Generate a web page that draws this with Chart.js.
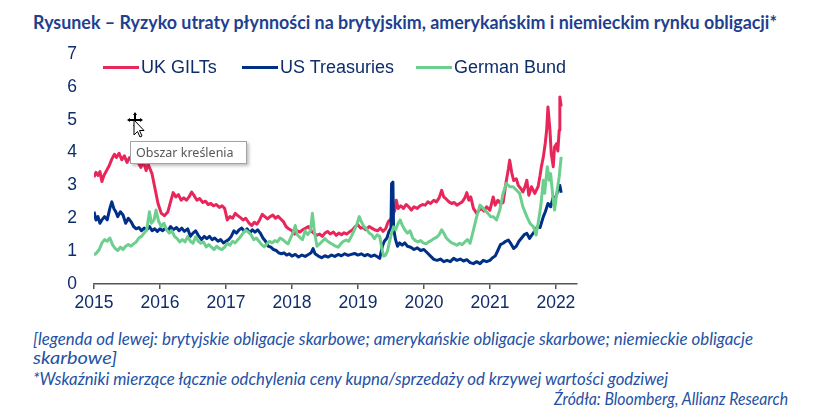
<!DOCTYPE html>
<html>
<head>
<meta charset="utf-8">
<script src="https://cdn.jsdelivr.net/npm/chart.js@4.4.1/dist/chart.umd.min.js"></script>
<style>
body{margin:0;background:#fff;width:815px;height:411px;overflow:hidden;position:relative;font-family:"Liberation Sans",Arial,sans-serif}
.t{position:absolute;white-space:nowrap;transform-origin:0 0;line-height:20px}
#title{left:33px;top:12px;font-weight:bold;font-size:18.5px;font-family:Lato,sans-serif;color:#1f3f8f}
.note{font-style:italic;font-size:16.5px;font-family:Lato,sans-serif;color:#2451a4}
#wrap{position:absolute;left:0;top:0;width:600px;height:320px}
.lg{position:absolute;height:3px;top:66px;width:36px}
.lt{position:absolute;top:56px;font-size:18px;line-height:22px;color:#0f2d6b}
#tip{position:absolute;left:130px;top:141px;width:110px;height:21px;border:1px solid #a3a3a3;background:#fff;
  box-shadow:2px 2px 3px rgba(0,0,0,0.25);font:12.5px "Noto Sans",sans-serif;color:#575757;line-height:21px;padding-left:5px}
#cur{position:absolute;left:126px;top:111px}
</style>
</head>
<body>
<div id="title" class="t" data-w="744">Rysunek – Ryzyko utraty płynności na brytyjskim, amerykańskim i niemieckim rynku obligacji*</div>

<div id="wrap"><canvas id="myChart" width="600" height="320"></canvas></div>

<div class="lg" style="left:103px;background:#e8265a"></div><div class="lt" style="left:141px">UK GILTs</div>
<div class="lg" style="left:242px;background:#002f87"></div><div class="lt" style="left:280px">US Treasuries</div>
<div class="lg" style="left:416px;background:#6dcf8e"></div><div class="lt" style="left:454px">German Bund</div>

<svg id="cur" width="22" height="28" viewBox="0 0 22 28">
  <path d="M9 1 L11 4 L10 4 L10 8 L14 8 L14 7 L17 9 L14 11 L14 10 L10 10 L10 14 L11 14 L9 17 L7 14 L8 14 L8 10 L4 10 L4 11 L1 9 L4 7 L4 8 L8 8 L8 4 L7 4 Z" fill="#000"/>
  <path d="M8 9 L8 24 L11.5 20.5 L14 26 L16 25 L13.5 19.5 L18 19.5 Z" fill="#fff" stroke="#000" stroke-width="1"/>
</svg>
<div id="tip">Obszar kreślenia</div>

<div class="t note" data-w="720" style="left:33px;top:329px">[legenda od lewej: brytyjskie obligacje skarbowe; amerykańskie obligacje skarbowe; niemieckie obligacje</div>
<div class="t note" data-w="84" style="left:33px;top:348px">skarbowe]</div>
<div class="t note" data-w="635" style="left:33px;top:369px">*Wskaźniki mierzące łącznie odchylenia ceny kupna/sprzedaży od krzywej wartości godziwej</div>
<div class="t note" data-w="234" style="left:554px;top:389px">Źródła: Bloomberg, Allianz Research</div>

<script>
// UK GILTs
const giltYears = [2015.00,2015.03,2015.06,2015.09,2015.12,2015.15,2015.19,2015.23,2015.27,2015.31,2015.34,2015.38,2015.42,2015.46,2015.50,2015.54,2015.58,2015.63,2015.67,2015.71,2015.75,2015.79,2015.82,2015.85,2015.88,2015.92,2015.97,2016.02,2016.07,2016.12,2016.16,2016.20,2016.24,2016.28,2016.32,2016.36,2016.40,2016.44,2016.48,2016.52,2016.56,2016.60,2016.65,2016.69,2016.73,2016.77,2016.81,2016.85,2016.90,2016.94,2016.98,2017.02,2017.06,2017.10,2017.14,2017.18,2017.22,2017.26,2017.30,2017.35,2017.39,2017.43,2017.47,2017.51,2017.55,2017.59,2017.63,2017.67,2017.71,2017.75,2017.79,2017.83,2017.87,2017.91,2017.95,2018.00,2018.04,2018.08,2018.12,2018.16,2018.21,2018.25,2018.29,2018.33,2018.37,2018.42,2018.46,2018.50,2018.54,2018.58,2018.63,2018.67,2018.71,2018.75,2018.79,2018.83,2018.88,2018.92,2018.96,2019.00,2019.04,2019.08,2019.12,2019.17,2019.21,2019.25,2019.30,2019.34,2019.38,2019.42,2019.46,2019.50,2019.53,2019.56,2019.58,2019.61,2019.65,2019.69,2019.73,2019.77,2019.81,2019.85,2019.90,2019.94,2019.98,2020.02,2020.06,2020.10,2020.15,2020.19,2020.23,2020.27,2020.30,2020.34,2020.38,2020.42,2020.46,2020.50,2020.54,2020.58,2020.62,2020.65,2020.68,2020.71,2020.75,2020.80,2020.84,2020.87,2020.91,2020.95,2021.00,2021.05,2021.08,2021.12,2021.16,2021.20,2021.25,2021.28,2021.30,2021.33,2021.36,2021.40,2021.43,2021.47,2021.50,2021.53,2021.56,2021.59,2021.63,2021.68,2021.73,2021.76,2021.78,2021.81,2021.84,2021.86,2021.88,2021.91,2021.93,2021.96,2021.98,2022.01,2022.03,2022.05,2022.06,2022.08];
const giltValues = [3.25,3.40,3.30,3.42,3.12,3.30,3.45,3.60,3.80,3.95,3.85,3.98,3.78,3.90,3.70,3.85,3.75,3.90,3.70,3.55,3.72,3.45,3.65,3.50,3.35,2.95,2.45,2.15,2.08,2.20,2.50,2.78,2.65,2.72,2.55,2.62,2.55,2.65,2.80,2.68,2.55,2.60,2.48,2.52,2.42,2.45,2.38,2.42,2.33,2.38,2.30,1.95,2.05,2.00,2.15,2.08,2.02,1.95,2.00,1.85,1.78,1.88,1.82,1.95,2.12,2.05,1.98,2.05,2.10,2.00,2.06,1.98,1.90,1.75,1.68,1.62,1.52,1.62,1.58,1.65,1.70,1.75,1.62,1.55,1.48,1.52,1.45,1.55,1.60,1.52,1.58,1.48,1.55,1.50,1.56,1.52,1.60,1.65,1.75,1.80,1.70,1.72,1.65,1.75,1.70,1.65,1.62,1.70,1.60,1.68,1.90,1.98,2.10,2.25,2.55,2.30,2.38,2.30,2.42,2.35,2.25,2.35,2.30,2.38,2.42,2.40,2.50,2.45,2.55,2.50,2.62,2.85,2.65,2.58,2.50,2.45,2.48,2.40,2.45,2.50,2.62,2.78,2.55,2.65,2.30,2.15,2.25,2.30,2.22,2.35,2.25,2.65,2.40,2.55,2.45,2.48,3.16,3.50,3.77,3.40,3.15,3.20,3.00,2.90,2.80,2.95,3.16,2.70,2.96,2.76,2.96,3.30,3.57,3.87,4.30,4.68,5.39,4.68,3.97,3.57,4.17,4.27,4.05,4.68,5.69,5.40];

// US Treasuries
const tsyYears = [2015.00,2015.03,2015.06,2015.09,2015.12,2015.16,2015.20,2015.24,2015.27,2015.30,2015.33,2015.36,2015.40,2015.44,2015.48,2015.52,2015.56,2015.60,2015.64,2015.68,2015.72,2015.76,2015.80,2015.84,2015.88,2015.92,2015.96,2016.00,2016.04,2016.08,2016.12,2016.16,2016.20,2016.25,2016.29,2016.33,2016.37,2016.42,2016.46,2016.50,2016.54,2016.58,2016.63,2016.67,2016.71,2016.75,2016.79,2016.83,2016.88,2016.92,2016.96,2017.00,2017.04,2017.08,2017.12,2017.16,2017.20,2017.24,2017.28,2017.32,2017.36,2017.40,2017.44,2017.48,2017.52,2017.56,2017.60,2017.64,2017.68,2017.72,2017.76,2017.80,2017.84,2017.88,2017.92,2017.96,2018.00,2018.05,2018.10,2018.15,2018.20,2018.25,2018.29,2018.32,2018.35,2018.40,2018.45,2018.50,2018.55,2018.60,2018.65,2018.70,2018.75,2018.80,2018.85,2018.90,2018.95,2019.00,2019.05,2019.10,2019.15,2019.20,2019.25,2019.30,2019.33,2019.37,2019.40,2019.44,2019.47,2019.50,2019.51,2019.53,2019.54,2019.57,2019.60,2019.63,2019.67,2019.71,2019.75,2019.80,2019.85,2019.90,2019.95,2020.00,2020.05,2020.10,2020.15,2020.20,2020.25,2020.30,2020.35,2020.40,2020.45,2020.50,2020.55,2020.60,2020.65,2020.70,2020.75,2020.80,2020.85,2020.90,2020.95,2021.00,2021.04,2021.08,2021.12,2021.16,2021.20,2021.24,2021.28,2021.32,2021.36,2021.40,2021.44,2021.48,2021.52,2021.56,2021.60,2021.64,2021.68,2021.72,2021.76,2021.81,2021.84,2021.88,2021.92,2021.96,2021.98,2022.01,2022.04,2022.06,2022.08];
const tsyValues = [2.20,1.95,2.05,1.85,1.95,2.05,1.95,2.30,2.50,2.30,2.20,2.05,2.20,2.10,1.85,2.00,1.90,1.75,1.68,1.72,1.62,1.70,1.65,1.75,1.62,1.68,1.60,1.68,1.62,1.70,1.62,1.75,1.65,1.72,1.62,1.70,1.60,1.68,1.45,1.55,1.62,1.48,1.35,1.45,1.38,1.45,1.35,1.40,1.30,1.35,1.25,1.30,1.35,1.45,1.62,1.55,1.65,1.70,1.60,1.68,1.55,1.65,1.58,1.65,1.55,1.40,1.30,1.15,1.12,1.05,1.02,0.95,0.92,0.95,0.88,0.92,0.85,0.90,0.82,0.88,0.84,0.90,0.95,1.08,0.92,0.85,0.80,0.86,0.82,0.88,0.84,0.90,0.86,0.92,0.87,0.90,0.93,0.88,0.92,0.86,0.90,0.84,0.88,0.82,0.78,1.15,1.30,1.40,1.60,1.70,3.05,3.10,1.70,1.35,1.15,1.25,1.18,1.25,1.15,1.12,1.05,1.10,1.02,1.05,0.95,0.85,0.75,0.72,0.76,0.68,0.72,0.68,0.78,0.72,0.76,0.70,0.74,0.65,0.62,0.68,0.62,0.72,0.68,0.72,0.80,0.85,1.02,1.20,1.24,1.30,1.34,1.22,1.08,1.15,1.30,1.40,1.50,1.54,1.39,1.50,1.62,1.74,1.72,2.05,2.20,2.45,2.35,2.65,2.60,2.70,2.96,3.00,2.78];

// German Bund
const bundYears = [2015.00,2015.04,2015.08,2015.12,2015.16,2015.20,2015.24,2015.28,2015.32,2015.36,2015.40,2015.44,2015.48,2015.52,2015.56,2015.60,2015.64,2015.68,2015.72,2015.76,2015.80,2015.84,2015.87,2015.91,2015.94,2015.98,2016.02,2016.06,2016.10,2016.14,2016.18,2016.22,2016.26,2016.30,2016.34,2016.38,2016.42,2016.46,2016.50,2016.54,2016.58,2016.62,2016.66,2016.70,2016.74,2016.78,2016.82,2016.86,2016.90,2016.94,2016.98,2017.02,2017.06,2017.10,2017.14,2017.18,2017.22,2017.26,2017.30,2017.34,2017.38,2017.42,2017.46,2017.50,2017.54,2017.58,2017.62,2017.66,2017.70,2017.74,2017.78,2017.82,2017.86,2017.90,2017.94,2017.98,2018.02,2018.05,2018.08,2018.12,2018.16,2018.20,2018.24,2018.28,2018.31,2018.34,2018.38,2018.42,2018.46,2018.50,2018.54,2018.58,2018.62,2018.66,2018.70,2018.74,2018.78,2018.82,2018.86,2018.90,2018.94,2018.98,2019.02,2019.05,2019.09,2019.13,2019.17,2019.21,2019.25,2019.29,2019.33,2019.36,2019.39,2019.42,2019.45,2019.48,2019.51,2019.54,2019.57,2019.61,2019.64,2019.67,2019.71,2019.75,2019.79,2019.83,2019.87,2019.91,2019.95,2019.99,2020.03,2020.07,2020.11,2020.15,2020.19,2020.23,2020.27,2020.30,2020.34,2020.38,2020.42,2020.46,2020.50,2020.54,2020.58,2020.62,2020.66,2020.70,2020.75,2020.80,2020.85,2020.90,2020.97,2021.01,2021.05,2021.10,2021.15,2021.20,2021.25,2021.30,2021.35,2021.40,2021.45,2021.50,2021.56,2021.61,2021.66,2021.70,2021.73,2021.77,2021.81,2021.83,2021.87,2021.90,2021.92,2021.96,2021.98,2022.02,2022.05,2022.08];
const bundValues = [0.88,0.95,1.05,1.25,1.35,1.30,1.40,1.20,1.08,1.02,1.12,1.05,1.15,1.20,1.15,1.22,1.28,1.40,1.45,1.55,1.65,2.20,1.85,1.95,2.25,1.90,1.75,1.85,1.65,1.55,1.62,1.45,1.38,1.28,1.35,1.28,1.44,1.30,1.24,1.44,1.30,1.24,1.28,1.13,1.20,1.12,1.05,1.15,1.08,1.05,1.12,1.24,1.18,1.30,1.25,1.35,1.44,1.55,1.64,1.58,1.50,1.35,1.40,1.30,1.20,1.13,1.22,1.30,1.25,1.32,1.28,1.40,1.35,1.28,1.22,1.40,1.58,1.78,1.50,1.42,1.35,1.62,1.50,1.62,2.15,1.60,1.15,1.22,1.30,1.38,1.30,1.25,1.20,1.15,1.12,1.22,1.30,1.34,1.30,1.45,1.62,1.80,2.05,1.90,1.75,1.68,1.55,1.50,1.38,1.50,1.45,1.10,0.85,0.88,1.02,1.30,1.55,1.74,1.65,1.85,1.95,1.80,1.65,1.55,1.62,1.40,1.32,1.28,1.32,1.25,1.22,1.28,1.32,1.38,1.42,1.50,1.65,1.55,1.40,1.32,1.25,1.22,1.18,1.24,1.20,1.28,1.35,1.24,1.64,2.05,2.40,2.30,2.15,2.05,2.05,1.95,2.25,2.76,3.06,2.96,2.96,2.86,2.76,2.35,2.05,1.84,1.74,1.49,1.84,2.35,3.16,2.76,3.57,3.16,3.36,2.55,2.25,2.86,3.26,3.87];

const xTickYears = [2015, 2016, 2017, 2018, 2019, 2020, 2021, 2022];
const yTicks = [0, 1, 2, 3, 4, 5, 6, 7];

const navy = '#0f2d6b';

function points(years, values) {
	return years.map((x, i) => ({x: x, y: values[i]}));
}

function line(label, years, values, color, order) {
	return {
		label: label,
		data: points(years, values),
		borderColor: color,
		borderWidth: 3,
		pointRadius: 0,
		tension: 0,
		fill: false,
		borderJoinStyle: 'round',
		order: order
	};
}

new Chart(document.getElementById('myChart').getContext('2d'), {
	type: 'line',
	data: {
		datasets: [
			line('UK GILTs', giltYears, giltValues, '#e8265a', 2),
			line('US Treasuries', tsyYears, tsyValues, '#002f87', 1),
			line('German Bund', bundYears, bundValues, '#6dcf8e', 0)
		]
	},
	options: {
		responsive: false,
		animation: false,
		layout: {padding: {left: 54, right: 23, top: 54, bottom: 0}},
		plugins: {legend: {display: false}, tooltip: {enabled: false}},
		scales: {
			x: {
				type: 'linear',
				min: 2015,
				max: 2022.32,
				afterBuildTicks: s => { s.ticks = xTickYears.map(v => ({value: v})); },
				afterFit: s => { s.height = 36; },
				ticks: {
					color: navy,
					font: {family: 'Liberation Sans', size: 17.5},
					padding: 4,
					maxRotation: 0,
					autoSkip: false,
					callback: v => String(v)
				},
				grid: {display: true, drawOnChartArea: false, drawTicks: true, tickLength: 5, color: '#555', lineWidth: 1.5},
				border: {display: true, color: '#555', width: 1.5}
			},
			y: {
				min: 0,
				max: 7,
				afterBuildTicks: s => { s.ticks = yTicks.map(v => ({value: v})); },
				afterFit: s => { s.width = 40; },
				ticks: {
					color: navy,
					font: {family: 'Liberation Sans', size: 17.5},
					padding: 17,
					callback: v => String(v)
				},
				grid: {display: false, drawTicks: false},
				border: {display: false}
			}
		}
	}
});

// fit the text lines to the widths they have in the picture
document.querySelectorAll('.t').forEach(el => {
	el.style.display = 'inline-block';
	let w = el.getBoundingClientRect().width;
	el.style.transform = 'scaleX(' + (el.dataset.w / w) + ')';
});
</script>
</body>
</html>
